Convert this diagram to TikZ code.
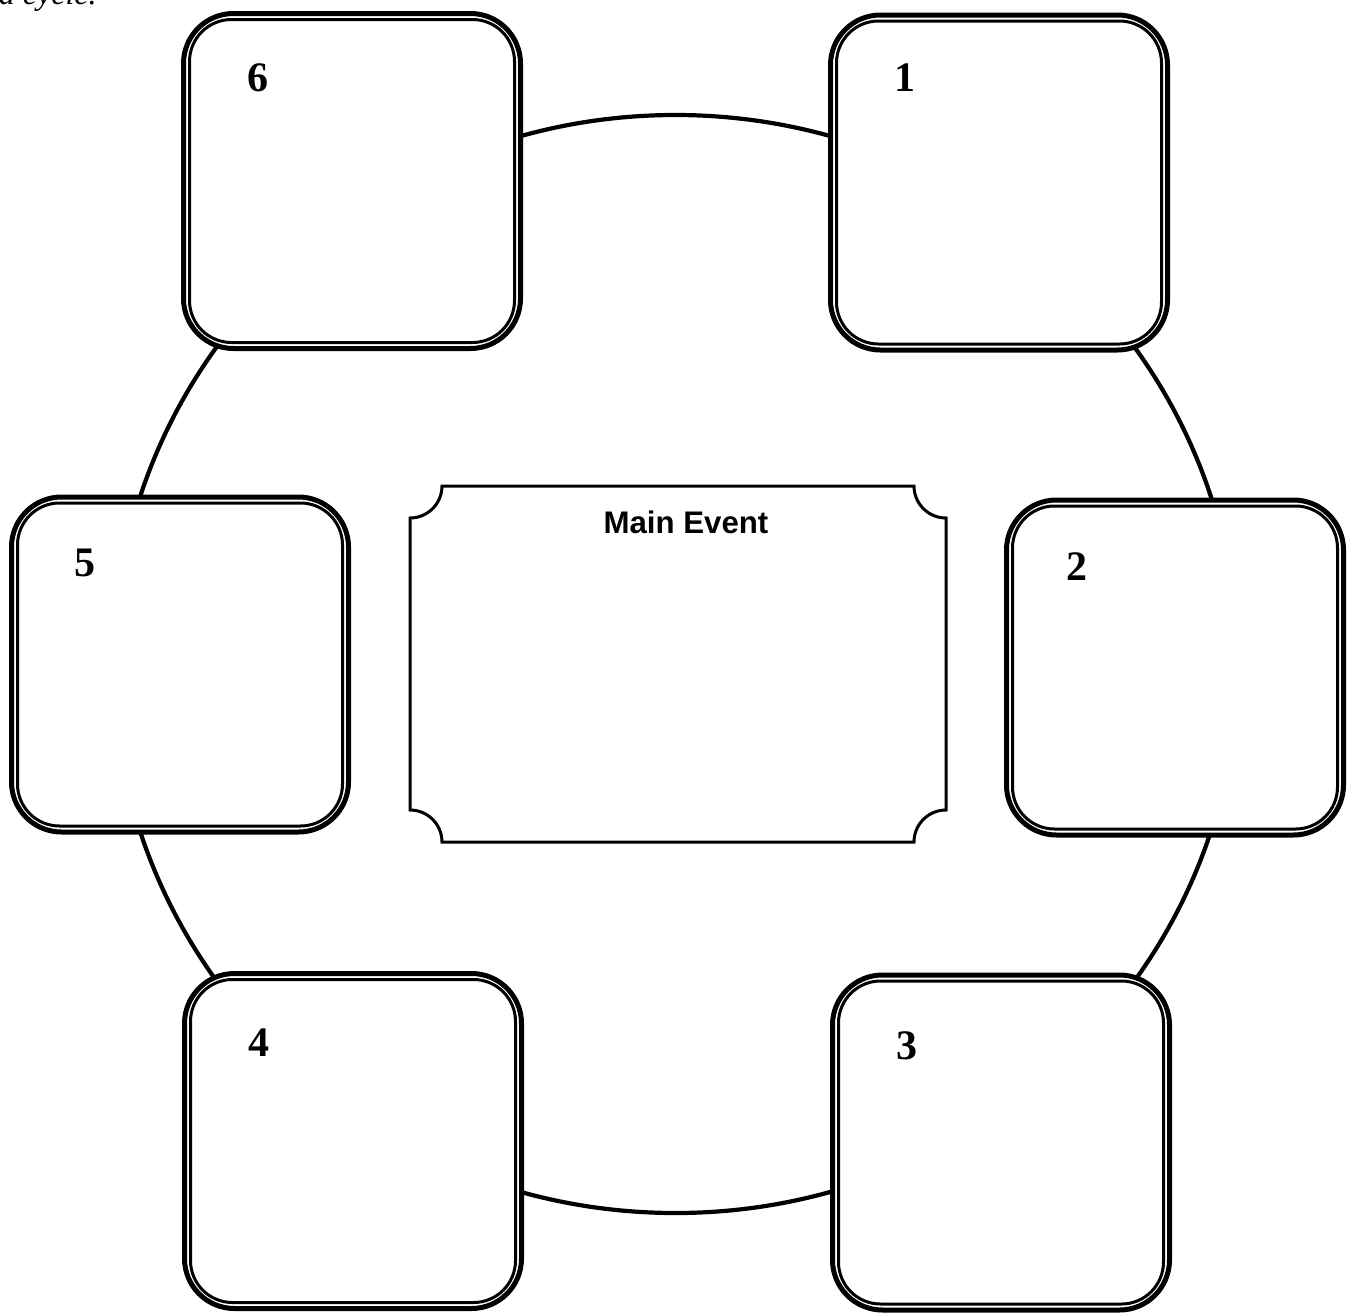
\documentclass[tikz,border=0pt]{standalone}
\usepackage{fontspec}
\setmainfont{Liberation Serif}
\newfontfamily\arialfont{Liberation Sans}
\begin{document}
\begin{tikzpicture}[x=0.5pt,y=0.5pt,
  outerbox/.style={draw,fill=white,line width=2.5pt,rounded corners=25pt,minimum width=168.5pt,minimum height=167.5pt,inner sep=0pt,outer sep=0pt},
  innerbox/.style={draw,line width=1.5pt,rounded corners=21pt,minimum width=162.5pt,minimum height=161.5pt,inner sep=0pt,outer sep=0pt},
  num/.style={inner sep=0pt,font=\fontsize{21}{21}\selectfont\bfseries},
  ring/.style={line width=2.1pt}]
\useasboundingbox (0,0) rectangle (1351,-1313);
% cut-off caption at the top
\node[anchor=base east,inner sep=0pt,font=\fontsize{16}{16}\selectfont\itshape] (cap) at (97,-4) {a cycle.};
% cycle ring
\draw[ring] (675.5,-664) ellipse [x radius=281pt, y radius=274.5pt];
% boxes
\node[outerbox] (b6) at (352,-181) {};
\node[innerbox] (i6) at (b6.center) {};
\node[outerbox] (b1) at (999,-182.5) {};
\node[innerbox] (i1) at (b1.center) {};
\node[outerbox] (b5) at (180,-664.5) {};
\node[innerbox] (i5) at (b5.center) {};
\node[outerbox] (b2) at (1175,-667.5) {};
\node[innerbox] (i2) at (b2.center) {};
\node[outerbox] (b4) at (353,-1141) {};
\node[innerbox] (i4) at (b4.center) {};
\node[outerbox] (b3) at (1001,-1142.5) {};
\node[innerbox] (i3) at (b3.center) {};
% numbers
\node[num] (n6) at (258,-78) {6};
\node[num] (n1) at (905,-78) {1};
\node[num] (n5) at (85,-563) {5};
\node[num] (n2) at (1077,-567) {2};
\node[num] (n4) at (259,-1043) {4};
\node[num] (n3) at (907,-1046) {3};
% main event box
\draw[line width=1.5pt,fill=white] (442,-486) -- (914,-486)
  arc[start angle=180,end angle=270,radius=16pt] -- (946,-810)
  arc[start angle=90,end angle=180,radius=16pt] -- (442,-842)
  arc[start angle=0,end angle=90,radius=16pt] -- (410,-518)
  arc[start angle=270,end angle=360,radius=16pt] -- cycle;
\node[inner sep=0pt,font=\arialfont\fontsize{15.6}{15.6}\selectfont\bfseries] (main) at (686,-522) {Main Event};
\end{tikzpicture}
\end{document}
